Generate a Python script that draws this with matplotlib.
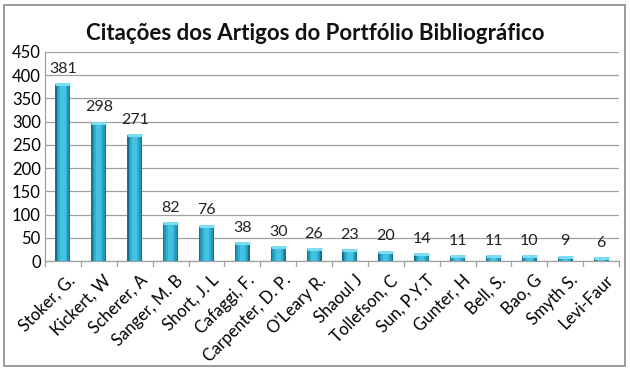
import matplotlib
matplotlib.use("Agg")
import matplotlib.pyplot as plt
from matplotlib.patches import Rectangle
import numpy as np

authors = ["Stoker, G.", "Kickert, W", "Scherer, A", "Sanger, M. B", "Short, J. L",
           "Cafaggi, F.", "Carpenter, D. P.", "O'Leary R.", "Shaoul J", "Tollefson, C",
           "Sun, P.Y.T", "Gunter, H", "Bell, S.", "Bao, G", "Smyth S.", "Levi-Faur"]
citations = [381, 298, 271, 82, 76, 38, 30, 26, 23, 20, 14, 11, 11, 10, 9, 6]
yticks = [0, 50, 100, 150, 200, 250, 300, 350, 400, 450]
title = "Citações dos Artigos do Portfólio Bibliográfico"

plt.rcParams['font.family'] = ['Lato', 'DejaVu Sans']

W, H = 630, 370
fig = plt.figure(figsize=(W/100, H/100), dpi=100)
fig.add_artist(Rectangle((4/W, 4/H), (W-9)/W, (H-9)/H, transform=fig.transFigure,
                         fill=False, edgecolor='#8a8a8a', linewidth=1.2))

ax = fig.add_axes([45/W, 1-261/H, (619-45)/W, (261-52)/H])
x = np.arange(len(authors))
bw = 0.42
# cylinder-like shading: layered bars
ax.bar(x, citations, width=bw, color='#17728c', zorder=3)
ax.bar(x, citations, width=bw*0.82, color='#2196b6', zorder=3)
ax.bar(x, citations, width=bw*0.6, color='#31afd2', zorder=3)
ax.bar(x, citations, width=bw*0.35, color='#45c2e2', zorder=3)
# top cap
for xi, v in zip(x, citations):
    ax.plot([xi - bw/2, xi + bw/2], [v, v], color='#7fdcf0', lw=2.2, zorder=4, solid_capstyle='butt')
    ax.text(xi, v + 18, str(v), ha='center', va='bottom', fontsize=11.5, color='#222222')

ax.set_xlim(-0.5, len(authors) - 0.5)
ax.set_ylim(0, 450)
ax.set_yticks(yticks)
ax.set_yticklabels([str(t) for t in yticks], fontsize=12)
ax.yaxis.grid(True, color='#a0a0a0', linewidth=0.9, zorder=0)
ax.set_axisbelow(True)
ax.tick_params(axis='y', length=0, pad=3)

ax.set_xticks(x + 0.12)
ax.set_xticklabels(authors, rotation=45, ha='right', rotation_mode='anchor', fontsize=12)
ax.tick_params(axis='x', length=0, pad=8)
for b in np.arange(-0.5, len(authors), 1.0):
    ax.plot([b, b], [0, -0.025], transform=ax.get_xaxis_transform(), color='#a0a0a0',
            lw=0.9, clip_on=False)

for s in ['top', 'right']:
    ax.spines[s].set_visible(False)
for s in ['left', 'bottom']:
    ax.spines[s].set_color('#a0a0a0')
    ax.spines[s].set_linewidth(0.9)

fig.text(0.5, 1 - 33/H, title, ha='center', va='center', fontsize=16, fontweight='bold',
         color='#111111')

fig.savefig("out.png", dpi=100)
